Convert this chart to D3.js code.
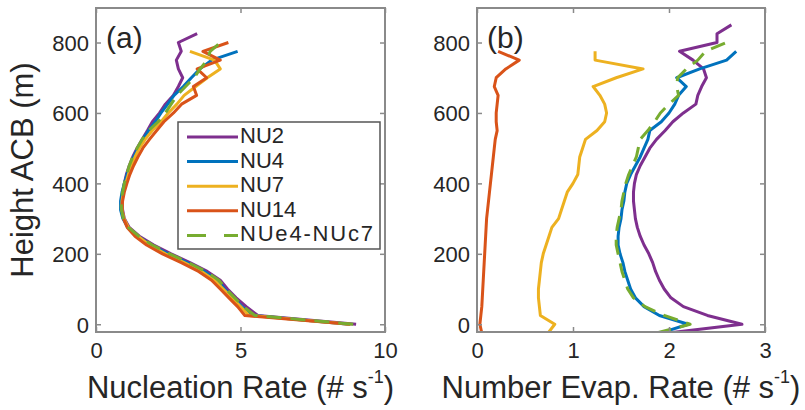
<!DOCTYPE html>
<html>
<head>
<meta charset="utf-8">
<script src="https://cdn.jsdelivr.net/npm/d3@7"></script>
<style>
  html, body { margin: 0; padding: 0; background: #fff; }
  text { font-family: "Liberation Sans", Arial, Helvetica, sans-serif; fill: #262626; }
</style>
</head>
<body>
<svg id="chart" width="805" height="410"></svg>
<script>
// ---------------- data ----------------
const heights = [-25, 0, 25, 50, 75, 100, 125, 150, 175, 200, 225, 250, 275, 300, 325, 350, 375, 400,
  425, 450, 475, 500, 525, 550, 575, 600, 625, 650, 675, 700, 725, 750, 775, 800, 825, 850];

const seriesNames = ["NU2", "NU4", "NU7", "NU14", "NUe4-NUc7"];
const seriesColors = ["#7E2F8E", "#0072BD", "#EDB120", "#D95319", "#77AC30"];
const seriesDashed = [false, false, false, false, true];

// panel (a): nucleation rate
const nucNU2 = [null, 9.0, 5.6, 5.2, 4.85, 4.55, 4.3, 3.85, 3.25, 2.6, 2.0, 1.5, 1.15, 0.98, 0.92, 0.9, 0.93, 0.98,
  1.05, 1.15, 1.27, 1.42, 1.6, 1.78, 1.95, 2.2, 2.4, 2.68, 2.85, 3.0, 2.85, 2.78, 2.95, 2.85, 3.5, null];
const nucNU4 = [null, 8.75, 5.45, 5.05, 4.75, 4.45, 4.2, 3.75, 3.15, 2.5, 1.9, 1.45, 1.1, 0.93, 0.85, 0.85, 0.9, 0.98,
  1.07, 1.18, 1.3, 1.45, 1.62, 1.82, 2.05, 2.25, 2.48, 2.7, 3.02, 3.3, 3.6, 4.0, 4.9, null, null, null];
const nucNU7 = [null, 8.8, 5.3, 5.0, 4.7, 4.4, 4.1, 3.65, 3.05, 2.4, 1.85, 1.45, 1.12, 0.97, 0.9, 0.9, 0.95, 1.03,
  1.12, 1.22, 1.35, 1.5, 1.7, 1.95, 2.25, 2.5, 2.8, 3.05, 3.45, 3.85, 4.3, 4.1, 3.25, null, null, null];
const nucNU14 = [null, 8.8, 5.15, 4.9, 4.6, 4.3, 4.0, 3.55, 2.95, 2.3, 1.75, 1.35, 1.08, 0.95, 0.9, 0.92, 0.98, 1.07,
  1.17, 1.3, 1.45, 1.62, 1.85, 2.1, 2.35, 2.68, 2.96, 3.48, 3.37, 3.83, 3.5, 4.3, 3.7, 4.58, null, null];
const nucNUe4c7 = [null, 8.9, 5.5, 5.1, 4.8, 4.5, 4.25, 3.8, 3.2, 2.55, 1.95, 1.48, 1.12, 0.95, 0.88, 0.87, 0.92, 0.98,
  1.06, 1.15, 1.27, 1.42, 1.6, 1.82, 2.15, 2.4, 2.6, 2.8, 3.1, 3.4, 3.6, 3.85, 3.95, 4.3, null, null];

// panel (b): number evaporation rate
const evapNU2 = [1.99, 2.76, 2.4, 2.15, 2.02, 1.95, 1.9, 1.86, 1.83, 1.79, 1.74, 1.7, 1.67, 1.65, 1.64, 1.63, 1.63, 1.64,
  1.66, 1.7, 1.75, 1.8, 1.87, 1.96, 2.04, 2.15, 2.28, 2.3, 2.34, 2.39, 2.36, 2.25, 2.11, 2.5, 2.5, 2.65];
const evapNU4 = [1.91, 2.2, 1.9, 1.74, 1.65, 1.6, 1.57, 1.54, 1.52, 1.49, 1.47, 1.47, 1.48, 1.5, 1.51, 1.53, 1.54, 1.56,
  1.6, 1.65, 1.7, 1.74, 1.78, 1.8, 1.92, 2.0, 2.06, 2.1, 2.18, 2.08, 2.32, 2.6, 2.7, null, null, null];
const evapNU7 = [0.74, 0.81, 0.66, 0.65, 0.64, 0.64, 0.65, 0.66, 0.67, 0.69, 0.72, 0.75, 0.78, 0.85, 0.88, 0.91, 0.94, 1.0,
  1.05, 1.06, 1.07, 1.1, 1.13, 1.25, 1.33, 1.35, 1.33, 1.28, 1.21, 1.45, 1.73, 1.23, 1.23, null, null, null];
const evapNU14 = [0.05, 0.03, 0.04, 0.05, 0.055, 0.06, 0.065, 0.07, 0.075, 0.08, 0.085, 0.09, 0.095, 0.1, 0.11, 0.12, 0.13, 0.14,
  0.15, 0.16, 0.17, 0.18, 0.19, 0.21, 0.2, 0.2, 0.21, 0.22, 0.18, 0.2, 0.3, 0.44, 0.22, null, null, null];
const evapNUe4c7 = [1.87, 2.22, 1.95, 1.75, 1.63, 1.57, 1.54, 1.51, 1.49, 1.47, 1.45, 1.45, 1.46, 1.48, 1.5, 1.51, 1.53, 1.55,
  1.58, 1.62, 1.66, 1.68, 1.7, 1.78, 1.85, 1.91, 2.0, 2.1, 2.08, 2.09, 2.18, 2.3, 2.38, 2.6, null, null];

const yTicks = [0, 200, 400, 600, 800];
const xTicksA = [0, 5, 10];
const xTicksB = [0, 1, 2, 3];
const yLabel = "Height ACB (m)";
const xLabelA = "Nucleation Rate (# s";
const xLabelB = "Number Evap. Rate (# s";
const panelTags = ["(a)", "(b)"];

// ---------------- layout ----------------
const svg = d3.select("#chart");
const plotTop = 8, plotBottom = 332;
const y = d3.scaleLinear().domain([-22, 898]).range([plotBottom, plotTop]);

const panels = [
  { tag: panelTags[0], x: d3.scaleLinear().domain([0, 10]).range([96, 385]), ticks: xTicksA, label: xLabelA,
    data: [nucNU2, nucNU4, nucNU7, nucNU14, nucNUe4c7], legend: true },
  { tag: panelTags[1], x: d3.scaleLinear().domain([0, 3]).range([477, 765]), ticks: xTicksB, label: xLabelB,
    data: [evapNU2, evapNU4, evapNU7, evapNU14, evapNUe4c7], legend: false }
];

const axisColor = "#8a8a8a";

panels.forEach((p, pi) => {
  const x = p.x;
  const [x0, x1] = x.range();
  const g = svg.append("g");

  const clipId = "clip" + pi;
  svg.append("clipPath").attr("id", clipId)
    .append("rect").attr("x", x0).attr("y", plotTop).attr("width", x1 - x0).attr("height", plotBottom - plotTop);

  // lines
  const lg = g.append("g").attr("clip-path", `url(#${clipId})`);
  p.data.forEach((vals, si) => {
    const pts = heights.map((h, i) => ({ h, v: vals[i] }));
    const line = d3.line().defined(d => d.v != null).x(d => x(d.v)).y(d => y(d.h));
    lg.append("path")
      .attr("d", line(pts))
      .attr("fill", "none")
      .attr("stroke", seriesColors[si])
      .attr("stroke-width", 3)
      .attr("stroke-linejoin", "round")
      .attr("stroke-dasharray", seriesDashed[si] ? "15,9" : null);
  });

  // axes (box with inward ticks on all sides)
  const axB = d3.axisBottom(x).tickValues(p.ticks).tickSize(-5).tickFormat(d3.format("d"));
  const axT = d3.axisTop(x).tickValues(p.ticks).tickSize(-5).tickFormat("");
  const axL = d3.axisLeft(y).tickValues(yTicks).tickSize(-5).tickFormat(d3.format("d"));
  const axR = d3.axisRight(y).tickValues(yTicks).tickSize(-5).tickFormat("");

  const gB = g.append("g").attr("transform", `translate(0,${plotBottom})`).call(axB);
  const gT = g.append("g").attr("transform", `translate(0,${plotTop})`).call(axT);
  const gL = g.append("g").attr("transform", `translate(${x0},0)`).call(axL);
  const gR = g.append("g").attr("transform", `translate(${x1},0)`).call(axR);
  [gB, gT, gL, gR].forEach(a => {
    a.select(".domain").remove();
    a.selectAll(".tick line").attr("stroke", axisColor).attr("stroke-width", 1.5);
  });
  gB.selectAll(".tick text").attr("font-size", 22).attr("fill", "#262626")
    .attr("y", 10).attr("dy", "0.71em").style("font-family", "Liberation Sans, Arial, sans-serif");
  gL.selectAll(".tick text").attr("font-size", 22).attr("fill", "#262626")
    .attr("x", -7).attr("dy", "0.36em").style("font-family", "Liberation Sans, Arial, sans-serif");

  g.append("rect").attr("x", x0).attr("y", plotTop).attr("width", x1 - x0).attr("height", plotBottom - plotTop)
    .attr("fill", "none").attr("stroke", axisColor).attr("stroke-width", 2);

  // panel tag
  g.append("text").attr("x", x0 + 10).attr("y", 48).attr("font-size", 30).text(p.tag);

  // x label with superscript
  const xl = g.append("text").attr("x", (x0 + x1) / 2).attr("y", 398)
    .attr("text-anchor", "middle").attr("font-size", 31);
  xl.append("tspan").text(p.label);
  xl.append("tspan").attr("font-size", 18).attr("dy", -15).text("-1");
  xl.append("tspan").attr("dy", 15).text(")");

  // legend
  if (p.legend) {
    const lgX = 178, lgY = 122, lgW = 202, lgH = 127;
    const rowH = 24.6;
    const leg = g.append("g");
    leg.append("rect").attr("x", lgX).attr("y", lgY).attr("width", lgW).attr("height", lgH)
      .attr("fill", "#fff").attr("stroke", "#555").attr("stroke-width", 1.5);
    seriesNames.forEach((name, si) => {
      const cy = lgY + 15 + si * rowH;
      leg.append("line").attr("x1", lgX + 9).attr("x2", lgX + 60).attr("y1", cy).attr("y2", cy)
        .attr("stroke", seriesColors[si]).attr("stroke-width", 3)
        .attr("stroke-dasharray", seriesDashed[si] ? "19,18" : null);
      leg.append("text").attr("x", lgX + 62).attr("y", cy + 6).attr("font-size", 22)
        .attr("textLength", name.length > 5 ? 133 : null).text(name);
    });
  }
});

// y label
svg.append("text")
  .attr("transform", `translate(33,${(plotTop + plotBottom) / 2}) rotate(-90)`)
  .attr("text-anchor", "middle").attr("font-size", 31).text(yLabel);
</script>
</body>
</html>
